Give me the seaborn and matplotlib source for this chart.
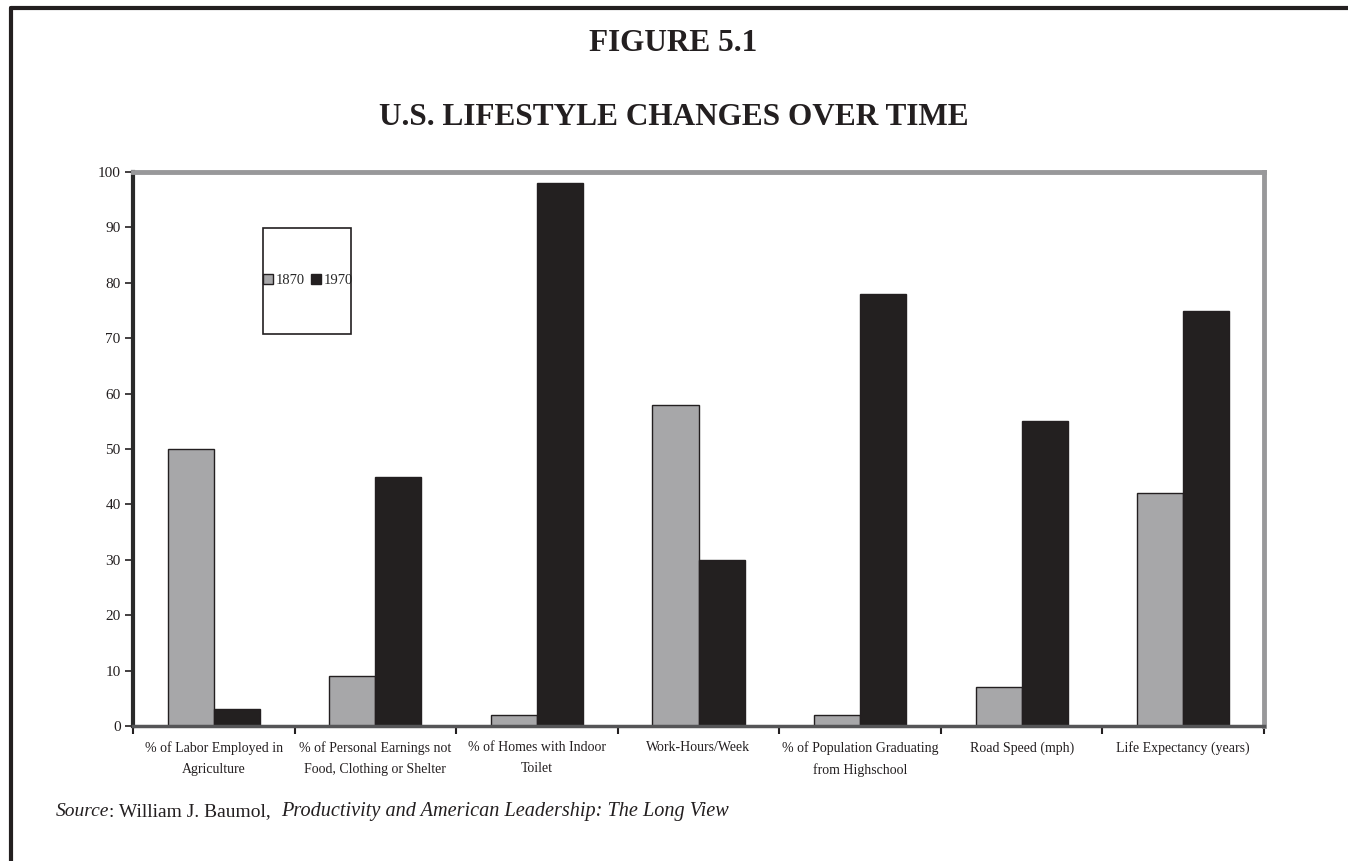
import matplotlib
matplotlib.use("Agg")
import matplotlib.pyplot as plt
from matplotlib.patches import Rectangle
from matplotlib.lines import Line2D
import numpy as np
import pandas as pd
import seaborn as sns

categories = [
    "% of Labor Employed in\nAgriculture",
    "% of Personal Earnings not\nFood, Clothing or Shelter",
    "% of Homes with Indoor\nToilet",
    "Work-Hours/Week",
    "% of Population Graduating\nfrom Highschool",
    "Road Speed (mph)",
    "Life Expectancy (years)",
]
values_1870 = [50, 9, 2, 58, 2, 7, 42]
values_1970 = [3, 45, 98, 30, 78, 55, 75]
years = ["1870", "1970"]
y_ticks = list(range(0, 101, 10))

df = pd.DataFrame({
    "category": categories * 2,
    "value": values_1870 + values_1970,
    "year": [years[0]] * len(categories) + [years[1]] * len(categories),
})

sns.set_theme(style="white")
plt.rcParams["font.family"] = ["Liberation Serif", "DejaVu Serif"]

gray = "#a7a7a9"
black = "#231f20"

fig = plt.figure(figsize=(13.48, 8.61), dpi=100)
ax = fig.add_axes([0.0987, 0.1568, 0.8390, 0.6434])

sns.barplot(data=df, x="category", y="value", hue="year",
            palette=[gray, black], width=0.57, edgecolor="#231f20",
            linewidth=1.0, ax=ax, legend=False)

ax.set_xlim(-0.5, len(categories) - 0.5)
ax.set_ylim(0, 100)
ax.set_yticks(y_ticks)
ax.set_yticklabels([str(t) for t in y_ticks], fontsize=11, color="#231f20")
ax.set_xlabel("")
ax.set_ylabel("")
ax.set_xticks(range(len(categories)))
ax.set_xticklabels(categories, fontsize=10, color="#231f20", linespacing=1.75)
ax.set_xticks(np.arange(-0.5, len(categories), 1.0), minor=True)
ax.tick_params(axis="x", which="major", length=0, pad=11, bottom=True)
ax.tick_params(axis="x", which="minor", length=6, width=1.5, color="#231f20",
               direction="out", bottom=True)
ax.tick_params(axis="y", which="major", length=6, width=1.2, color="#231f20",
               direction="out", left=True, pad=3)

for side in ["top", "right"]:
    ax.spines[side].set_color("#98989a")
    ax.spines[side].set_linewidth(3.5)
ax.spines["left"].set_color("#2a2a2a")
ax.spines["left"].set_linewidth(3)
ax.spines["bottom"].set_color("#555557")
ax.spines["bottom"].set_linewidth(2.5)

# legend box
ax.add_patch(Rectangle((0.115, 0.708), 0.078, 0.191, transform=ax.transAxes,
                       facecolor="white", edgecolor="#231f20", linewidth=1.2, zorder=5))
handles = [Line2D([], [], marker="s", linestyle="", markersize=7,
                  markerfacecolor=c, markeredgecolor="#231f20", markeredgewidth=1)
           for c in [gray, black]]
ax.legend(handles, years, loc="center", bbox_to_anchor=(0.154, 0.8035),
          ncol=2, frameon=False, fontsize=10.5, handletextpad=0.05,
          columnspacing=0.35, handlelength=0.9, borderpad=0)
ax.get_legend().set_zorder(6)

fig.text(0.4995, 0.950, "FIGURE 5.1", ha="center", va="center",
         fontsize=22.5, fontweight="bold", color="#231f20")
fig.text(0.4995, 0.863, "U.S. LIFESTYLE CHANGES OVER TIME", ha="center", va="center",
         fontsize=22.5, fontweight="bold", color="#231f20")

src_y = 0.057
t1 = fig.text(0.041, src_y, "Source", ha="left", va="center", fontsize=14,
              style="italic", color="#231f20")
fig.canvas.draw()
r = fig.canvas.get_renderer()
bb = t1.get_window_extent(r)
x = bb.x1 / fig.bbox.width
t2 = fig.text(x, src_y, ": William J. Baumol,", ha="left", va="center",
              fontsize=14, color="#231f20")
bb = t2.get_window_extent(r)
x = (bb.x1 + 11) / fig.bbox.width
fig.text(x, src_y, "Productivity and American Leadership: The Long View", ha="left",
         va="center", fontsize=14.6, style="italic", color="#231f20")

# page frame
fig.add_artist(Line2D([0.0085, 0.0085], [0.0, 0.991], transform=fig.transFigure,
                      color="#231f20", linewidth=3))
fig.add_artist(Line2D([0.0085, 1.0], [0.991, 0.991], transform=fig.transFigure,
                      color="#231f20", linewidth=3))

fig.savefig("out.png", dpi=100, facecolor="white")
